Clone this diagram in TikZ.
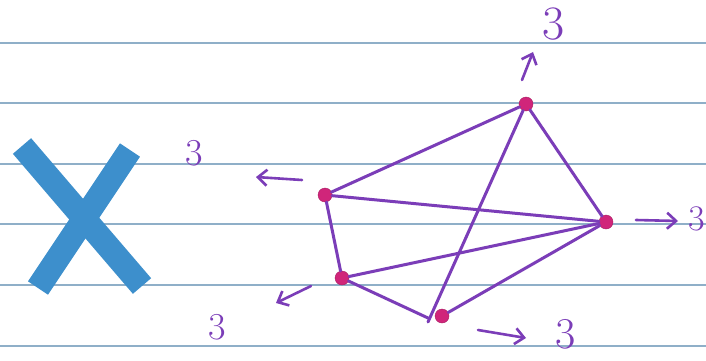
\documentclass[tikz,border=0pt]{standalone}
\usepackage{fontspec}
\usetikzlibrary{arrows.meta}
\definecolor{paperline}{HTML}{8FAFC8}
\definecolor{penpurple}{HTML}{7B3DB8}
\definecolor{penmagenta}{HTML}{D0257A}
\definecolor{penblue}{HTML}{3D8FCC}

\begin{document}
\begin{tikzpicture}[
      x=1pt, y=-1pt,
      vertex/.style={circle, fill=penmagenta, draw=penmagenta!80!black,
        inner sep=0pt, minimum size=14pt},
      edge/.style={draw=penpurple, line width=3pt, line cap=round},
      push/.style={draw=penpurple, line width=2.6pt, line cap=round,
        -{Straight Barb[length=9pt, width=16pt, line width=2.6pt]}},
      count/.style={text=penpurple, inner sep=0pt},
      ruled/.style={draw=paperline, line width=1.5pt},
      crossbar/.style={draw=penblue, line width=24pt}
    ]
      \useasboundingbox[fill=white] (0,0) rectangle (706,361);
      % paper lines
      \foreach \ypos in {43,103,164,224,285,346}
        \draw[ruled] (0,\ypos) -- (706,\ypos);
      % the X
      \draw[crossbar] (22,146) -- (142,286);
      \draw[crossbar] (130,150) -- (38,288);
      \node[count, font=\fontsize{38}{38}\selectfont] (lblx) at (194,153) {3};
      % vertices
      \node[vertex] (top) at (526,104) {};
      \node[vertex] (lup) at (325,195) {};
      \node[vertex] (rgt) at (606,222) {};
      \node[vertex] (llo) at (342,278) {};
      \node[vertex] (bot) at (442,316) {};
      \draw[edge] (top) -- (lup);
      \draw[edge] (top) -- (rgt);
      \draw[edge] (top) -- (428,322);
      \draw[edge] (lup) -- (rgt);
      \draw[edge] (lup) -- (llo);
      \draw[edge] (llo) -- (rgt);
      \draw[edge] (llo) -- (428,318);
      \draw[edge] (bot) -- (rgt);
      % pushes
      \coordinate (ptop0) at (522,80);
      \coordinate (ptop1) at (533,52);
      \coordinate (plup0) at (302,180);
      \coordinate (plup1) at (256,177);
      \coordinate (prgt0) at (636,220);
      \coordinate (prgt1) at (678,221);
      \coordinate (pllo0) at (311,286);
      \coordinate (pllo1) at (276,303);
      \coordinate (pbot0) at (478,330);
      \coordinate (pbot1) at (526,338);
      \draw[push] (ptop0) -- (ptop1);
      \draw[push] (plup0) -- (plup1);
      \draw[push] (prgt0) -- (prgt1);
      \draw[push] (pllo0) -- (pllo1);
      \draw[push] (pbot0) -- (pbot1);
      \node[count, font=\fontsize{48}{48}\selectfont] (lbltop) at (554,24) {3};
      \node[count, font=\fontsize{36}{36}\selectfont, anchor=west] (lblrgt) at (688,219) {3};
      \node[count, font=\fontsize{44}{44}\selectfont] (lblbot) at (566,334) {3};
      \node[count, font=\fontsize{38}{38}\selectfont] (lblllo) at (217,327) {3};
    \end{tikzpicture}
\end{document}
